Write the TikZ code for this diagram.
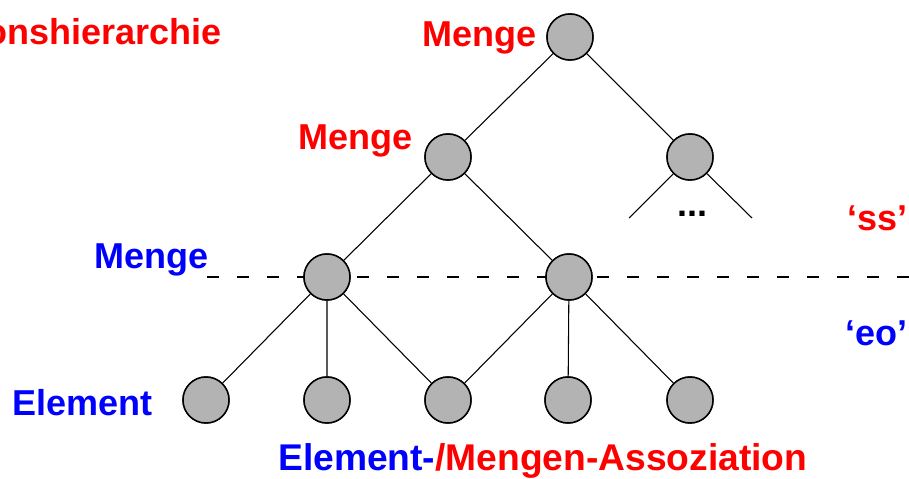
\documentclass[tikz,border=0pt]{standalone}
\usepackage{fontspec}
\setmainfont{Liberation Sans}
\usepackage{tikz}
\usetikzlibrary{calc}
\definecolor{setred}{HTML}{FF0000}
\definecolor{elemblue}{HTML}{0000FF}
\definecolor{knotgray}{HTML}{B3B3B3}

\begin{document}
\begin{tikzpicture}[
  x=0.75pt, y=-0.75pt,
  knot/.style={circle, draw=black, fill=knotgray, line width=1.1pt,
               minimum size=34.5pt, inner sep=0pt},
  link/.style={line width=0.8pt, black},
  level/.style={line width=1.1pt, black, dash pattern=on 9pt off 13.5pt},
  lab/.style={font=\bfseries\fontsize{27}{31}\selectfont, inner sep=0pt},
  every node/.style={inner sep=0pt}]

\useasboundingbox (0,0) rectangle (909,478);

% ---- the tree of sets ---------------------------------------------------
\node[knot] (top) at (570, 37)  {};
\node[knot] (ml)  at (448,157)  {};
\node[knot] (mr)  at (690,157)  {};
\node[knot] (sl)  at (327,277)  {};
\node[knot] (sr)  at (569,277)  {};

% ---- the elements -------------------------------------------------------
\foreach \n/\xx in {e1/206,e2/327,e3/448,e4/568,e5/690}{
  \node[knot] (\n) at (\xx,400) {};
}

% ---- the open branch on the right ---------------------------------------
\coordinate (mrl) at (629,218);
\coordinate (mrr) at (752,218);
\node[lab] (dots) at (692,214) {...};

% ---- the dividing level -------------------------------------------------
\coordinate (cutl) at (207,277);
\coordinate (cutr) at (909,277);
\draw[level] (cutl)--(cutr);

% ---- the edges ----------------------------------------------------------
\draw[link] (top)--(ml) (top)--(mr) (ml)--(sl) (ml)--(sr)
            (mr)--(mrl) (mr)--(mrr);
\draw[link] (sl)--(e1) (sl)--(e2) (sl)--(e3)
            (sr)--(e3) (sr)--(e4) (sr)--(e5);
\foreach \n in {top,ml,mr,sl,sr,e1,e2,e3,e4,e5}{
  \node[knot] at (\n) {};
}

% ---- the labels ---------------------------------------------------------
\node[lab, setred, anchor=base east]  (title) at (222, 45)  {onshierarchie};
\node[lab, setred, anchor=base east]  (lmtop) at (537, 46)  {Menge};
\node[lab, setred, anchor=base east]  (lmmid) at (413,149)  {Menge};
\node[lab, elemblue, anchor=base east] (lmlow) at (209,268) {Menge};
\node[lab, elemblue, anchor=base west] (lelem) at (12,415)  {Element};
\node[lab, setred, anchor=base east]  (lss)   at (908,230)  {‘ss’};
\node[lab, elemblue, anchor=base east] (leo)  at (908,345)  {‘eo’};
\node[lab, anchor=base west, font=\bfseries\fontsize{27.9}{32}\selectfont]
      (assoc) at (278,470)
      {\textcolor{elemblue}{Element-}\textcolor{setred}{/Mengen-Assoziation}};

\end{tikzpicture}
\end{document}
